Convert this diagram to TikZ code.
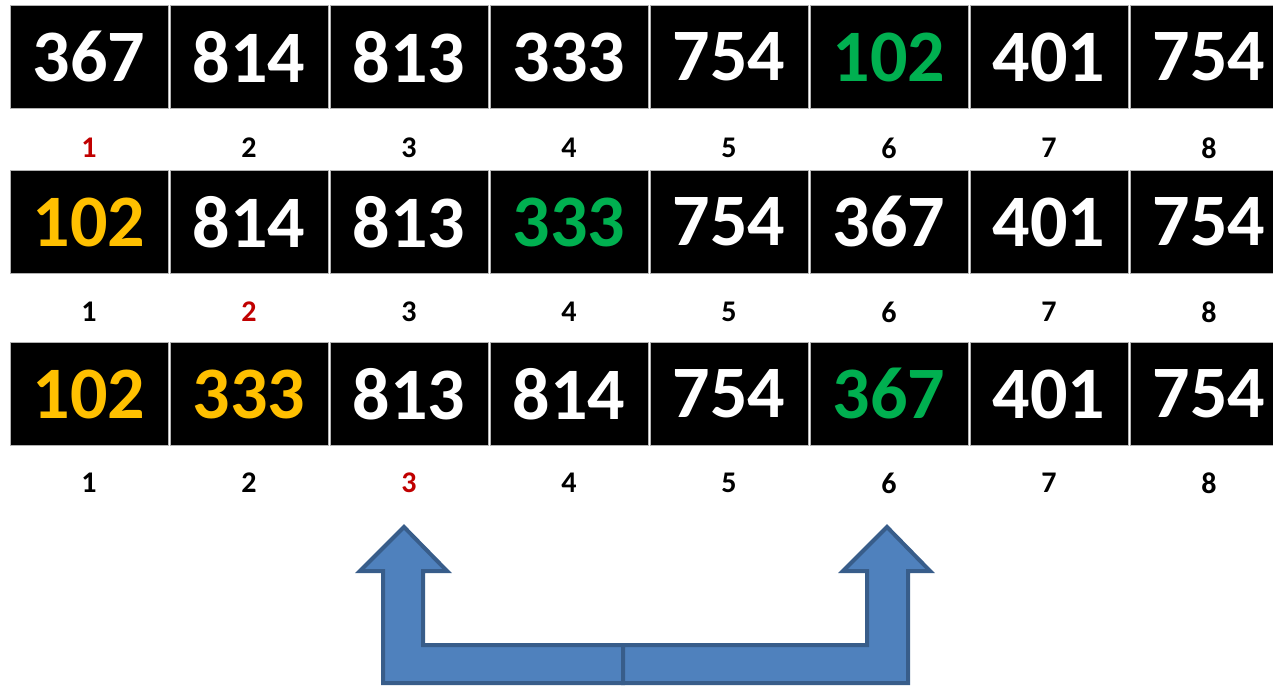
\documentclass[tikz,border=0pt]{standalone}
\usepackage{fontspec}
\setmainfont{Carlito}

\definecolor{swapgreen}{HTML}{00B050}
\definecolor{sortedgold}{HTML}{FFC000}
\definecolor{posred}{HTML}{C00000}
\definecolor{arrowfill}{HTML}{4F81BD}
\definecolor{arrowline}{HTML}{385D8A}

\begin{document}
\begin{tikzpicture}[x=1pt, y=-1pt,
            cell/.style={draw=gray!60, line width=1pt, fill=black, inner sep=0pt,
                         minimum width=158pt, minimum height=103pt,
                         font=\bfseries\fontsize{74}{74}\selectfont},
            idx/.style={font=\bfseries\fontsize{30}{30}\selectfont},
            swaparrow/.style={fill=arrowfill, draw=arrowline, line width=4pt, line join=miter}
        ]

        \clip (0,0) rectangle (1273,685);

        % Row 1
        \foreach \v/\c [count=\i] in {367/white, 814/white, 813/white, 333/white,
                                      754/white, 102/swapgreen, 401/white, 754/white}
            \node[cell, text=\c] (ra\i) at (89+160*\i-160, 57) {\v};
        \foreach \c [count=\i] in {posred, black, black, black, black, black, black, black}
            \node[idx, text=\c] (la\i) at (89+160*\i-160, 148) {\i};

        % Row 2
        \foreach \v/\c [count=\i] in {102/sortedgold, 814/white, 813/white, 333/swapgreen,
                                      754/white, 367/white, 401/white, 754/white}
            \node[cell, text=\c] (rb\i) at (89+160*\i-160, 222) {\v};
        \foreach \c [count=\i] in {black, posred, black, black, black, black, black, black}
            \node[idx, text=\c] (lb\i) at (89+160*\i-160, 312) {\i};

        % Row 3
        \foreach \v/\c [count=\i] in {102/sortedgold, 333/sortedgold, 813/white, 814/white,
                                      754/white, 367/swapgreen, 401/white, 754/white}
            \node[cell, text=\c] (rc\i) at (89+160*\i-160, 394) {\v};
        \foreach \c [count=\i] in {black, black, posred, black, black, black, black, black}
            \node[idx, text=\c] (lc\i) at (89+160*\i-160, 483) {\i};

        % Swap arrow
        \draw[swaparrow] (404,527) -- (447,571) -- (423,571) -- (423,645) -- (623,645)
            -- (623,683) -- (383,683) -- (383,571) -- (360,571) -- cycle;
        \draw[swaparrow] (887,527) -- (930,571) -- (908,571) -- (908,683) -- (623,683)
            -- (623,645) -- (867,645) -- (867,571) -- (843,571) -- cycle;

\end{tikzpicture}
\end{document}
